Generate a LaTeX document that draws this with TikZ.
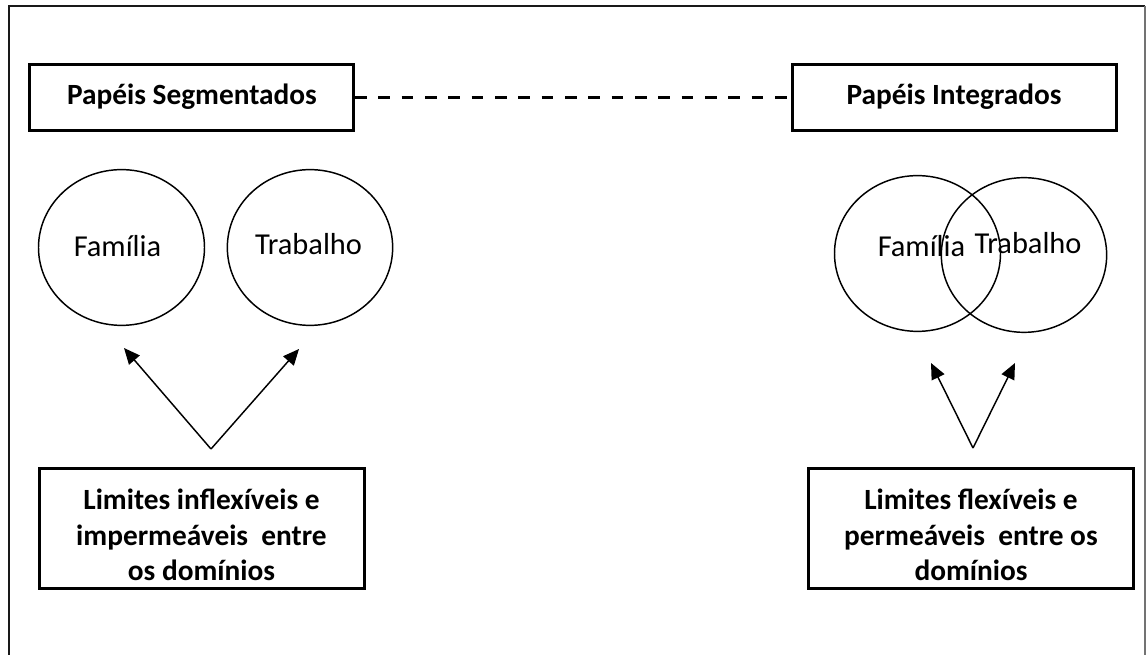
\documentclass[tikz,border=0pt]{standalone}
\usepackage{fontspec}
\setmainfont{Carlito}
\usetikzlibrary{shapes.geometric,arrows.meta}
\begin{document}
\begin{tikzpicture}[x=0.75pt,y=-0.75pt,
  headbox/.style={draw,line width=2.25pt,minimum width=243pt,minimum height=49.5pt,inner sep=0pt},
  limbox/.style={draw,line width=2.25pt,minimum width=243.75pt,minimum height=90pt,inner sep=0pt},
  dom/.style={draw,ellipse,line width=1.1pt,inner sep=0pt},
  boldtxt/.style={font=\fontsize{22}{26.4}\selectfont\bfseries,align=center,inner sep=0pt},
  regtxt/.style={font=\fontsize{22.8}{26}\selectfont,anchor=base,inner sep=0pt},
  arr/.style={line width=1.1pt,-{Triangle[length=12pt,width=10.5pt]}},
  link/.style={line width=2.25pt,dash pattern=on 8.75pt off 8.75pt}
]
\useasboundingbox (0,0) rectangle (1146,655);
% outer frame
\draw[line width=1.5pt,black!90] (9,655) -- (9,6) -- (1145,6);
\draw[line width=0.9pt,black!55] (1145,6) -- (1145,655);

% top boxes
\node[headbox] (seg) at (191.5,97.5) {};
\node[boldtxt] (segt) at (192,97) {Papéis Segmentados};
\node[headbox] (int) at (954,97.5) {};
\node[boldtxt] (intt) at (954,97) {Papéis Integrados};
\draw[link] (seg.east) -- (int.west);

% left circles
\node[dom,minimum width=124.5pt,minimum height=116.8pt] (fam1) at (121.5,247.5) {};
\node[dom,minimum width=124pt,minimum height=116.8pt] (trab1) at (310,247.5) {};
\node[regtxt] (fam1t) at (117.5,257) {Família};
\node[regtxt] (trab1t) at (308.5,255) {Trabalho};

% right circles
\node[dom,minimum width=124.5pt,minimum height=116.8pt] (fam2) at (917.5,253.5) {};
\node[dom,minimum width=124pt,minimum height=116pt] (trab2) at (1024,255) {};
\node[regtxt] (fam2t) at (921.5,257) {Família};
\node[regtxt] (trab2t) at (1028,254) {Trabalho};

% bottom boxes
\node[limbox] (lim1) at (202,528.5) {};
\node[boldtxt] (lim1t) at (201.5,535) {Limites inflexíveis e\\impermeáveis~ entre\\os domínios};
\node[limbox] (lim2) at (971,528.5) {};
\node[boldtxt] (lim2t) at (971,535) {Limites flexíveis e\\permeáveis~ entre os\\domínios};

% arrows
\coordinate (a1) at (211,449);
\coordinate (t1l) at (124,348);
\coordinate (t1r) at (299,349);
\draw[arr] (a1) -- (t1l);
\draw[arr] (a1) -- (t1r);
\coordinate (a2) at (973,448);
\coordinate (t2l) at (931,363);
\coordinate (t2r) at (1015,363);
\draw[arr] (a2) -- (t2l);
\draw[arr] (a2) -- (t2r);
\end{tikzpicture}
\end{document}
